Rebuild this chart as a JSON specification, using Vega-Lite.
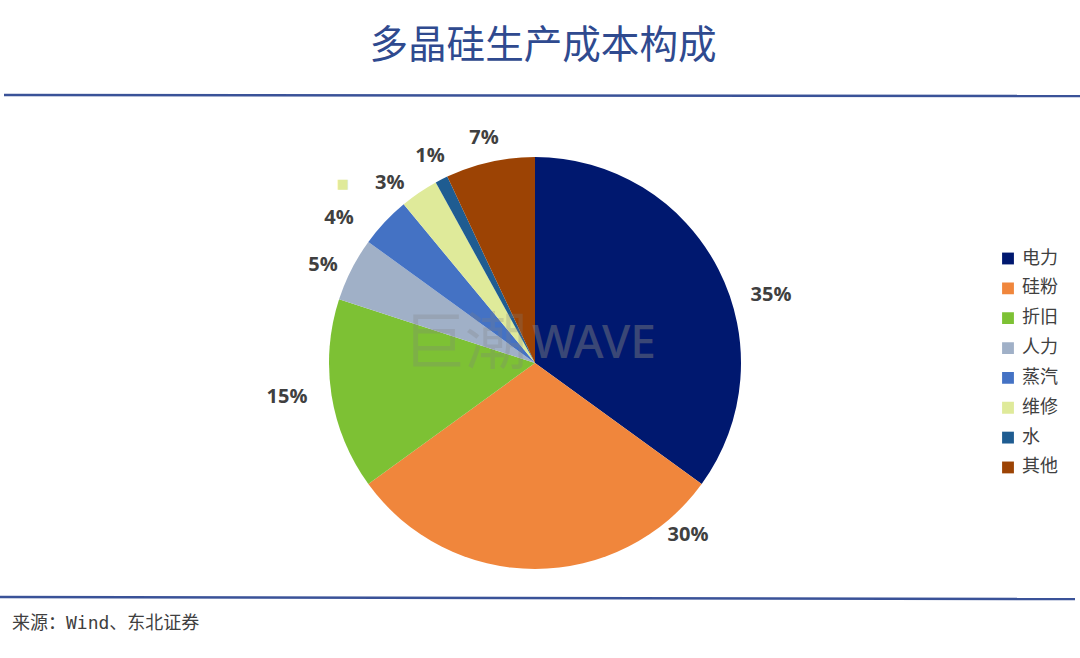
{
  "$schema": "https://vega.github.io/schema/vega-lite/v6.json",
  "width": 1070,
  "height": 590,
  "autosize": "none",
  "padding": {"left": 0, "top": 68, "right": 10, "bottom": 0},
  "background": "white",
  "view": {"stroke": null},
  "title": {
    "text": "多晶硅生产成本构成",
    "font": "Noto Sans CJK SC",
    "fontSize": 38.6,
    "fontWeight": "normal",
    "color": "#2F4A8F",
    "anchor": "middle",
    "frame": "group",
    "dx": 8,
    "offset": 1
  },
  "datasets": {
    "cost": [
      {"name": "电力", "share": 35, "rank": 1, "label": "35%"},
      {"name": "硅粉", "share": 30, "rank": 2, "label": "30%"},
      {"name": "折旧", "share": 15, "rank": 3, "label": "15%"},
      {"name": "人力", "share": 5, "rank": 4, "label": "5%"},
      {"name": "蒸汽", "share": 4, "rank": 5, "label": "4%"},
      {"name": "维修", "share": 3, "rank": 6, "label": "3%"},
      {"name": "水", "share": 1, "rank": 7, "label": "1%"},
      {"name": "其他", "share": 7, "rank": 8, "label": "7%"}
    ]
  },
  "encoding": {
    "x": {"scale": {"domain": [0, 1070]}, "axis": null},
    "y": {"scale": {"domain": [0, 590], "reverse": true}, "axis": null}
  },
  "layer": [
    {
      "data": {"name": "cost"},
      "mark": {"type": "arc", "outerRadius": 206},
      "encoding": {
        "x": null,
        "y": null,
        "theta": {"field": "share", "type": "quantitative", "stack": true, "scale": {"domain": [0, 100]}},
        "order": {"field": "rank", "type": "quantitative"},
        "color": {
          "field": "name",
          "type": "nominal",
          "sort": null,
          "scale": {
            "domain": ["电力", "硅粉", "折旧", "人力", "蒸汽", "维修", "水", "其他"],
            "range": ["#00186F", "#F0863C", "#7DC134", "#A0B0C7", "#4472C4", "#DFEA9A", "#1F5C91", "#9C4304"]
          },
          "legend": {
            "title": null,
            "orient": "none",
            "legendX": 999,
            "legendY": 180,
            "symbolType": "square",
            "symbolSize": 140,
            "symbolStrokeWidth": 0,
            "labelFont": "Noto Sans CJK SC",
            "labelFontSize": 18,
            "labelColor": "#404040",
            "labelOffset": 5,
            "rowPadding": 8.85,
            "clipHeight": 21
          }
        }
      }
    },
    {
      "data": {"name": "cost"},
      "mark": {"type": "text", "font": "Open Sans", "fontSize": 20, "fontWeight": "bold", "color": "#404040"},
      "encoding": {
        "x": null,
        "y": null,
        "text": {"field": "label"},
        "theta": {
          "field": "rank",
          "type": "quantitative",
          "stack": null,
          "scale": {
            "type": "linear",
            "domain": [1, 2, 3, 4, 5, 6, 7, 8],
            "range": [1.29, 2.415, 4.576, 5.145, 5.349, 5.604, 5.814, 6.06]
          }
        },
        "radius": {
          "field": "rank",
          "type": "quantitative",
          "stack": null,
          "scale": {
            "type": "linear",
            "domain": [1, 2, 3, 4, 5, 6, 7, 8],
            "range": [245.6, 230.3, 250.3, 233.6, 243.8, 231.1, 232.1, 230.7]
          }
        }
      }
    },
    {
      "data": {"values": [{"note": "巨潮"}]},
      "mark": {"type": "text", "font": "Noto Sans CJK SC", "fontSize": 62, "color": "#808080", "opacity": 0.25},
      "encoding": {
        "text": {"field": "note"},
        "x": {"datum": 465},
        "y": {"datum": 277}
      }
    },
    {
      "data": {"values": [{"note": "WAVE"}]},
      "mark": {"type": "text", "font": "Noto Sans", "fontSize": 46, "fontWeight": 500, "color": "#808080", "opacity": 0.45},
      "encoding": {
        "text": {"field": "note"},
        "x": {"datum": 594},
        "y": {"datum": 276}
      }
    },
    {
      "data": {"values": [{"note": "■"}]},
      "mark": {"type": "text", "font": "DejaVu Sans", "fontSize": 13, "color": "#DFEA9A"},
      "encoding": {
        "text": {"field": "note"},
        "x": {"datum": 343},
        "y": {"datum": 116}
      }
    },
    {
      "data": {"values": [{"note": "来源：Wind、东北证券"}]},
      "mark": {"type": "text", "align": "left", "font": "DejaVu Sans Mono, Noto Sans CJK SC", "fontSize": 18, "color": "#404040"},
      "encoding": {
        "text": {"field": "note"},
        "x": {"datum": 12},
        "y": {"datum": 556}
      }
    },
    {
      "data": {"values": [{"line": "top"}]},
      "mark": {"type": "rule", "color": "#3A5298", "strokeWidth": 2.5},
      "encoding": {
        "x": {"datum": 4},
        "x2": {"datum": 1080},
        "y": {"datum": 27},
        "y2": {"datum": 28}
      }
    },
    {
      "data": {"values": [{"line": "bottom"}]},
      "mark": {"type": "rule", "color": "#3A5298", "strokeWidth": 2.5},
      "encoding": {
        "x": {"datum": 0},
        "x2": {"datum": 1075},
        "y": {"datum": 529},
        "y2": {"datum": 531}
      }
    }
  ],
  "resolve": {"scale": {"theta": "independent", "radius": "independent"}}
}
